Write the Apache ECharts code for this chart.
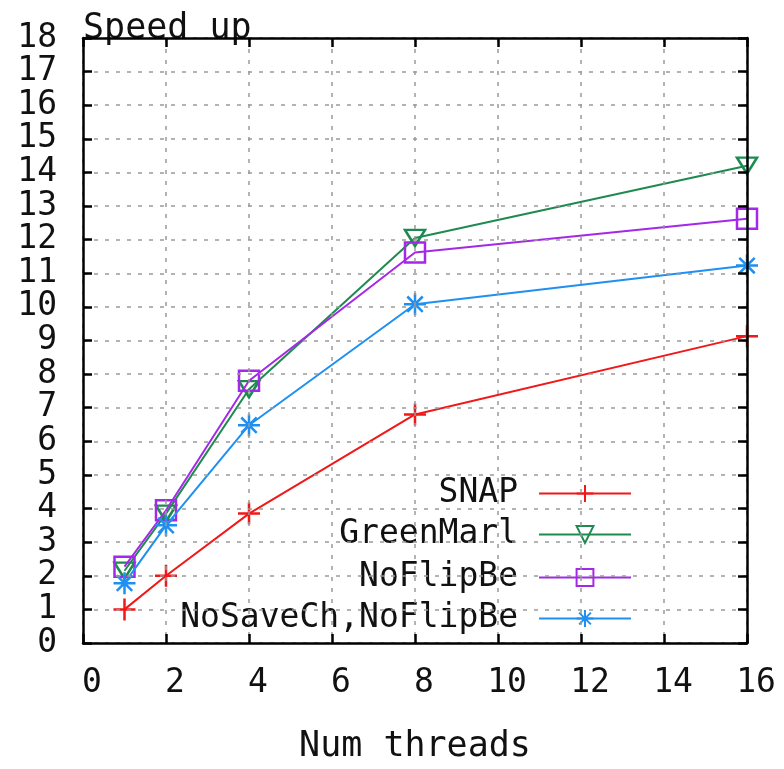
<!DOCTYPE html>
<html>
<head>
<meta charset="utf-8">
<script src="https://cdn.jsdelivr.net/npm/echarts@6/dist/echarts.min.js"></script>
<style>html,body{margin:0;padding:0;background:#fff}#c{width:784px;height:769px}</style>
</head>
<body>
<div id="c"></div>
<script>
const threads = [1, 2, 4, 8, 16];
const snap = [1.0, 2.0, 3.85, 6.8, 9.13];
const greenMarl = [2.15, 3.85, 7.55, 12.05, 14.2];
const noFlipBe = [2.27, 3.95, 7.8, 11.62, 12.62];
const noSaveCh = [1.78, 3.5, 6.48, 10.08, 11.23];
const seriesNames = ['SNAP', 'GreenMarl', 'NoFlipBe', 'NoSaveCh,NoFlipBe'];
const xTicks = [0, 2, 4, 6, 8, 10, 12, 14, 16];
const yTicks = [0, 1, 2, 3, 4, 5, 6, 7, 8, 9, 10, 11, 12, 13, 14, 15, 16, 17, 18];

const FONT = '"DejaVu Sans Mono", monospace';
const colors = ['#f01818', '#1e8a50', '#a428e8', '#2090f0'];
const symbols = [
  'path://M0,5L10,5M5,0L5,10',
  'path://M0,0L10,0L5,8.66Z',
  'path://M0,0L10,0L10,10L0,10Z',
  'path://M5,0L5,10M0,5L10,5M1.5,1.5L8.5,8.5M8.5,1.5L1.5,8.5'
];
const symSizes = [22, [20, 16], 20, 22];
const values = [snap, greenMarl, noFlipBe, noSaveCh];

const series = seriesNames.map((n, i) => ({
  name: n,
  type: 'line',
  data: threads.map((t, k) => [t, values[i][k]]),
  symbol: symbols[i],
  symbolSize: symSizes[i],
  showAllSymbol: true,
  lineStyle: { color: colors[i], width: 2 },
  itemStyle: { color: 'rgba(255,255,255,0)', borderColor: colors[i], borderWidth: 2.5 },
  emphasis: { disabled: true },
  animation: false,
  z: 3 + i
}));

const legendCenters = [493, 534, 577, 618];
const legends = seriesNames.map((n, i) => ({
  data: [n],
  right: 152,
  top: legendCenters[i] - 16,
  padding: 0,
  align: 'right',
  itemWidth: 92,
  itemHeight: 21,
  selectedMode: false,
  textStyle: { fontFamily: FONT, fontSize: 33, color: '#111', lineHeight: 32, padding: [0, 16, 0, 0] }
}));

const gridLine = { show: true, lineStyle: { color: '#9a9a9a', type: [4, 7], width: 1.5 } };
const blackLine = { show: true, onZero: false, lineStyle: { color: '#000', width: 2.5 } };
const tick = { show: true, inside: true, length: 9, lineStyle: { color: '#000', width: 2.5 } };

const option = {
  backgroundColor: '#fff',
  animation: false,
  grid: { left: 83, top: 38, right: 37, bottom: 122, show: false },
  legend: legends,
  xAxis: [{
    type: 'value', min: xTicks[0], max: xTicks[xTicks.length - 1], interval: 2,
    name: 'Num threads', nameLocation: 'middle', nameGap: 86,
    nameTextStyle: { fontFamily: FONT, fontSize: 35, color: '#111' },
    axisLine: blackLine,
    axisTick: tick,
    axisLabel: { fontFamily: FONT, fontSize: 33, color: '#111', margin: 24, padding: [0, 0, 0, 18] },
    splitLine: gridLine,
    z: 10
  }, {
    type: 'value', position: 'top', min: xTicks[0], max: xTicks[xTicks.length - 1], interval: 2,
    axisLine: blackLine, axisLabel: { show: false }, splitLine: { show: false },
    axisTick: tick, z: 10
  }],
  yAxis: [{
    type: 'value', min: yTicks[0], max: yTicks[yTicks.length - 1], interval: 1,
    name: 'Speed up', nameLocation: 'end', nameGap: 0,
    nameTextStyle: { fontFamily: FONT, fontSize: 35, color: '#111', align: 'left', verticalAlign: 'bottom', padding: [0, 0, -8, 0] },
    axisLine: blackLine,
    axisTick: tick,
    axisLabel: { fontFamily: FONT, fontSize: 33, color: '#111', margin: 26 },
    splitLine: gridLine,
    z: 10
  }, {
    type: 'value', position: 'right', min: yTicks[0], max: yTicks[yTicks.length - 1], interval: 1,
    axisLine: blackLine, axisLabel: { show: false }, splitLine: { show: false },
    axisTick: tick, z: 10
  }],
  series: series
};

const chart = echarts.init(document.getElementById('c'), null, { renderer: 'canvas' });
chart.setOption(option);
</script>
</body>
</html>
